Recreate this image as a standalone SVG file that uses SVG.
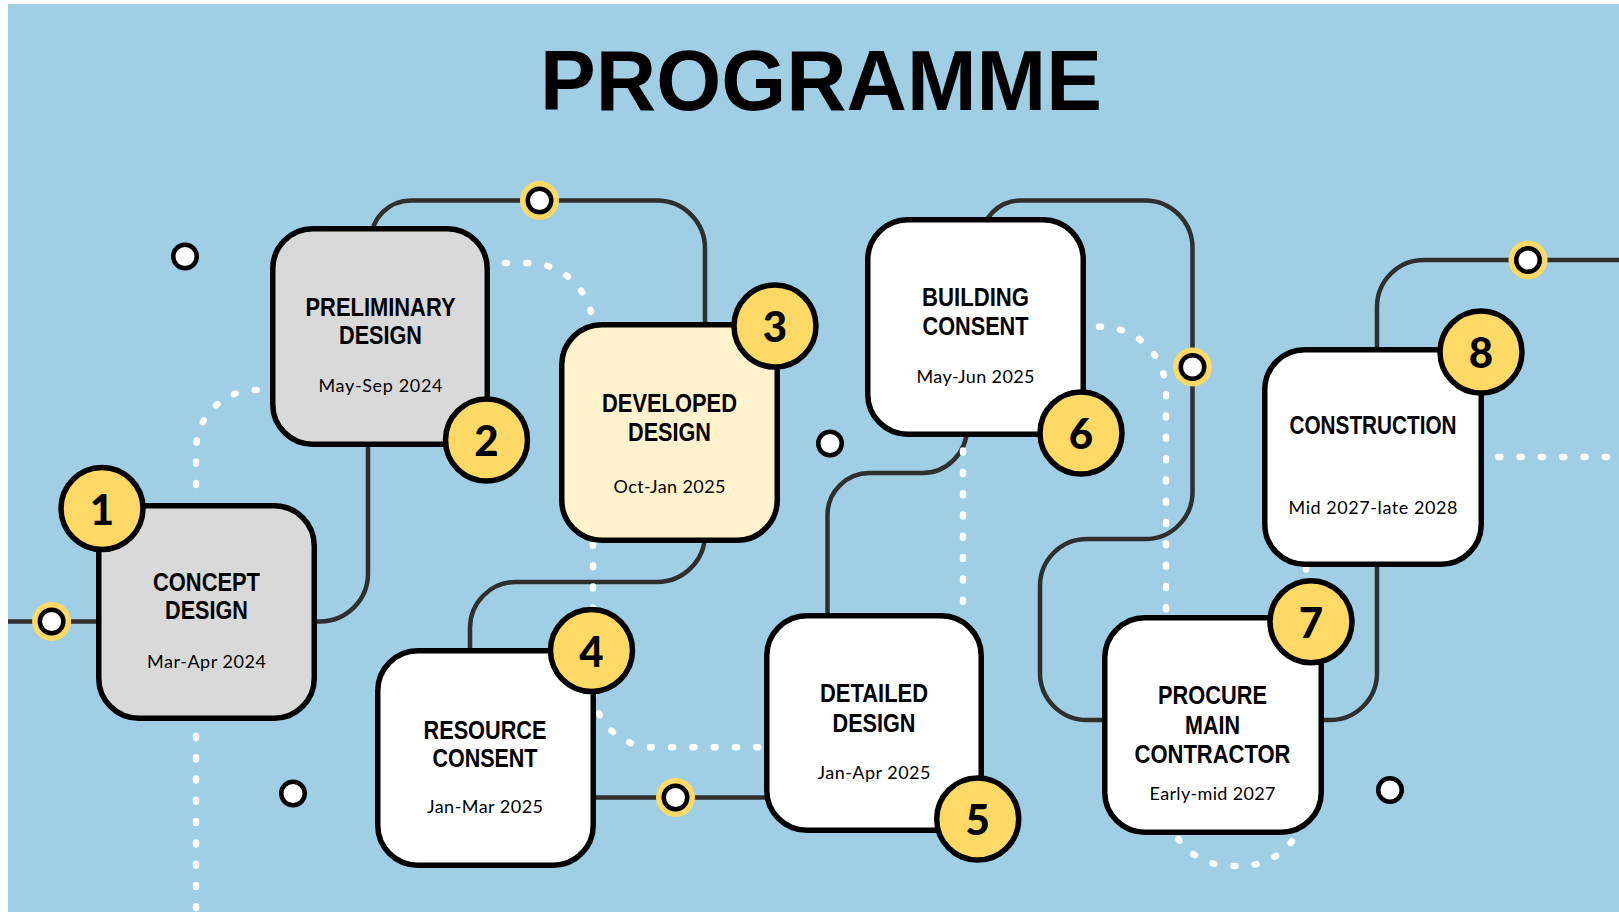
<svg xmlns="http://www.w3.org/2000/svg" width="1619" height="912" viewBox="0 0 1619 912">
  <defs>
    <style>
      .wire{fill:none;stroke:#2F2F2F;stroke-width:4.5}
      .dots{fill:none;stroke:#fff;stroke-width:6.5;stroke-linecap:round;stroke-dasharray:2 19.3}
      .halo{fill:#FFD966}
      .stop{fill:#fff;stroke:#000;stroke-width:4.5}
      .card{stroke:#000;stroke-width:5.5}
      .grey{fill:#D9D9D9}
      .cream{fill:#FFF2CC}
      .white{fill:#fff}
      .badge{fill:#FFD966;stroke:#000;stroke-width:5.5}
      .ttl{font-family:"Liberation Sans Narrow","Liberation Sans",Arial,sans-serif;font-weight:700;font-size:26.5px;text-anchor:middle;fill:#000}
      .date{font-family:Lato,"Liberation Sans",sans-serif;font-size:18px;text-anchor:middle;fill:#000}
      .num{font-family:Lato,"Liberation Sans",sans-serif;font-weight:900;font-size:42px;text-anchor:middle;fill:#000}
      .head{font-family:"Liberation Sans",Arial,sans-serif;font-weight:700;font-size:86px;text-anchor:middle;fill:#000}
    </style>
  </defs>

  <!-- backdrop -->
  <rect x="0" y="0" width="1619" height="912" fill="#fff"/>
  <rect x="8" y="4" width="1611" height="908" fill="#9FCEE5"/>

  <text class="head" x="821" y="109.5" textLength="562" lengthAdjust="spacingAndGlyphs">PROGRAMME</text>

  <!-- dark track lines -->
  <g id="connectors">
    <path class="wire" d="M 8 621.5 H 97"/>
    <path class="wire" d="M 316 621.5 H 320 A 48 48 0 0 0 368 573.5 V 446"/>
    <path class="wire" d="M 371 240.5 A 40 40 0 0 1 411 200.5 H 657 A 48 48 0 0 1 705 248.5 V 324"/>
    <path class="wire" d="M 705 534 A 48 48 0 0 1 657 582 H 516 A 46 46 0 0 0 470 628 V 650"/>
    <path class="wire" d="M 595 797.5 H 766"/>
    <path class="wire" d="M 827.5 614 V 515 A 42 42 0 0 1 869.5 473 H 922 A 45 45 0 0 0 967 428"/>
    <path class="wire" d="M 981 240.5 A 40 40 0 0 1 1021 200.5 H 1145 A 47.5 47.5 0 0 1 1192.5 248 V 492 A 47 47 0 0 1 1145.5 539 H 1087 A 47 47 0 0 0 1040 586 V 673 A 47 47 0 0 0 1087 720 H 1104"/>
    <path class="wire" d="M 1323 720 H 1330 A 47 47 0 0 0 1377 673 V 566"/>
    <path class="wire" d="M 1377 348 V 307 A 47 47 0 0 1 1424 260 H 1619"/>
  </g>

  <!-- white dotted route -->
  <g id="route">
    <path class="dots" d="M 196 908.3 V 716"/>
    <path class="dots" d="M 196 485 V 450 A 60 60 0 0 1 256 390 H 268"/>
    <path class="dots" d="M 505 263 H 528 A 65 65 0 0 1 593 328 V 687.3 A 60 60 0 0 0 653 747.3 H 770"/>
    <path class="dots" d="M 963 601.7 V 450"/>
    <path class="dots" d="M 1099 326.7 H 1101 A 65 65 0 0 1 1166 391.7 V 801 A 65 65 0 0 0 1231 866 H 1241 A 65 65 0 0 0 1306 801 V 522 A 65 65 0 0 1 1371 457 H 1625"/>
  </g>

  <!-- stations on the lines -->
  <g id="stations">
    <circle class="halo" cx="539.5" cy="200.5" r="19.5"/>
    <circle class="stop" cx="539.5" cy="200.5" r="11.75"/>
    <circle class="halo" cx="51.6" cy="621.5" r="19.5"/>
    <circle class="stop" cx="51.6" cy="621.5" r="11.75"/>
    <circle class="halo" cx="675.5" cy="797.5" r="19.5"/>
    <circle class="stop" cx="675.5" cy="797.5" r="11.75"/>
    <circle class="halo" cx="1192.5" cy="367" r="19.5"/>
    <circle class="stop" cx="1192.5" cy="367" r="11.75"/>
    <circle class="halo" cx="1528" cy="260" r="19.5"/>
    <circle class="stop" cx="1528" cy="260" r="11.75"/>
    <circle class="stop" cx="185" cy="256.5" r="11.75"/>
    <circle class="stop" cx="830" cy="443.5" r="11.75"/>
    <circle class="stop" cx="293" cy="793.5" r="11.75"/>
    <circle class="stop" cx="1390" cy="790" r="11.75"/>
  </g>

  <g id="node-1">
    <rect class="card grey" x="98.75" y="505.75" width="215.5" height="212.5" rx="40"/>
    <circle class="badge" cx="102" cy="508.5" r="41"/>
    <text class="num" x="102" y="524.5">1</text>
    <text class="ttl" x="206.5" y="590.5" textLength="107" lengthAdjust="spacingAndGlyphs">CONCEPT</text>
    <text class="ttl" x="206.5" y="619" textLength="83" lengthAdjust="spacingAndGlyphs">DESIGN</text>
    <text class="date" x="206.5" y="667.5" textLength="119" lengthAdjust="spacing">Mar-Apr 2024</text>
  </g>

  <g id="node-2">
    <rect class="card grey" x="272.75" y="228.75" width="214.5" height="215.5" rx="40"/>
    <circle class="badge" cx="486.5" cy="440" r="41"/>
    <text class="num" x="486.5" y="456">2</text>
    <text class="ttl" x="380.5" y="315.5" textLength="150" lengthAdjust="spacingAndGlyphs">PRELIMINARY</text>
    <text class="ttl" x="380.5" y="343.5" textLength="83" lengthAdjust="spacingAndGlyphs">DESIGN</text>
    <text class="date" x="380.5" y="391.5" textLength="124" lengthAdjust="spacing">May-Sep 2024</text>
  </g>

  <g id="node-3">
    <rect class="card cream" x="561.75" y="324.75" width="215.5" height="215.5" rx="40"/>
    <circle class="badge" cx="775" cy="326" r="41"/>
    <text class="num" x="775" y="342">3</text>
    <text class="ttl" x="669.5" y="412" textLength="135" lengthAdjust="spacingAndGlyphs">DEVELOPED</text>
    <text class="ttl" x="669.5" y="441" textLength="83" lengthAdjust="spacingAndGlyphs">DESIGN</text>
    <text class="date" x="669.5" y="493" textLength="112" lengthAdjust="spacing">Oct-Jan 2025</text>
  </g>

  <g id="node-4">
    <rect class="card white" x="377.75" y="650.75" width="215.5" height="214.5" rx="40"/>
    <circle class="badge" cx="591.5" cy="650.5" r="41"/>
    <text class="num" x="591.5" y="666.5">4</text>
    <text class="ttl" x="485" y="738.5" textLength="123" lengthAdjust="spacingAndGlyphs">RESOURCE</text>
    <text class="ttl" x="485" y="767" textLength="105" lengthAdjust="spacingAndGlyphs">CONSENT</text>
    <text class="date" x="485" y="813" textLength="116" lengthAdjust="spacing">Jan-Mar 2025</text>
  </g>

  <g id="node-5">
    <rect class="card white" x="766.75" y="615.75" width="214.5" height="214.5" rx="40"/>
    <circle class="badge" cx="977.7" cy="819" r="41"/>
    <text class="num" x="977.7" y="835">5</text>
    <text class="ttl" x="874" y="702" textLength="108" lengthAdjust="spacingAndGlyphs">DETAILED</text>
    <text class="ttl" x="874" y="731.5" textLength="83" lengthAdjust="spacingAndGlyphs">DESIGN</text>
    <text class="date" x="874" y="779" textLength="113" lengthAdjust="spacing">Jan-Apr 2025</text>
  </g>

  <g id="node-6">
    <rect class="card white" x="867.75" y="219.75" width="215.5" height="214.5" rx="40"/>
    <circle class="badge" cx="1081" cy="433" r="41"/>
    <text class="num" x="1081" y="449">6</text>
    <text class="ttl" x="975.5" y="306" textLength="107" lengthAdjust="spacingAndGlyphs">BUILDING</text>
    <text class="ttl" x="975.5" y="335" textLength="106" lengthAdjust="spacingAndGlyphs">CONSENT</text>
    <text class="date" x="975.5" y="382.5" textLength="118" lengthAdjust="spacing">May-Jun 2025</text>
  </g>

  <g id="node-7">
    <rect class="card white" x="1104.75" y="617.75" width="216.5" height="214.5" rx="40"/>
    <circle class="badge" cx="1311" cy="621.7" r="41"/>
    <text class="num" x="1311" y="637.7">7</text>
    <text class="ttl" x="1212.5" y="704" textLength="109" lengthAdjust="spacingAndGlyphs">PROCURE</text>
    <text class="ttl" x="1212.5" y="733.5" textLength="55" lengthAdjust="spacingAndGlyphs">MAIN</text>
    <text class="ttl" x="1212.5" y="763" textLength="156" lengthAdjust="spacingAndGlyphs">CONTRACTOR</text>
    <text class="date" x="1212.5" y="800" textLength="126" lengthAdjust="spacing">Early-mid 2027</text>
  </g>

  <g id="node-8">
    <rect class="card white" x="1264.75" y="349.75" width="216.5" height="214.5" rx="40"/>
    <circle class="badge" cx="1481" cy="352" r="41"/>
    <text class="num" x="1481" y="368">8</text>
    <text class="ttl" x="1373" y="433.5" textLength="167" lengthAdjust="spacingAndGlyphs">CONSTRUCTION</text>
    <text class="date" x="1373" y="514" textLength="169" lengthAdjust="spacing">Mid 2027-late 2028</text>
  </g>
</svg>
